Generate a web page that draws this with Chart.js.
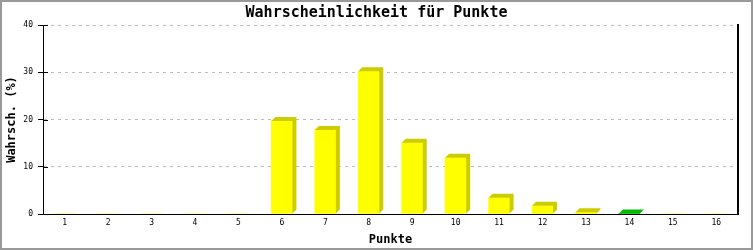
<!DOCTYPE html>
<html>
<head>
<meta charset="utf-8">
<script src="https://cdn.jsdelivr.net/npm/chart.js@4.4.1/dist/chart.umd.min.js"></script>
<style>
  html, body { margin: 0; padding: 0; background: #fff; }
  #wrap { width: 753px; height: 250px; }
</style>
</head>
<body>
<div id="wrap"><canvas id="grafico" width="753" height="250"></canvas></div>
<script>
// --- datos ---
const punkte = ['1', '2', '3', '4', '5', '6', '7', '8', '9', '10', '11', '12', '13', '14', '15', '16'];
const wahrscheinlichkeit = [0, 0, 0, 0, 0, 19.7, 17.8, 30.2, 15.1, 11.9, 3.45, 1.75, 0.35, 0.08, 0, 0];
const yTicks = [0, 10, 20, 30, 40];
const hervorgehoben = '14';

const GELB = '#ffff00', GELB_DUNKEL = '#cccc00';
const GRUEN = '#00cc00', GRUEN_DUNKEL = '#00bb00';

const fuellung = punkte.map(p => p === hervorgehoben ? GRUEN : GELB);
const seiten = punkte.map(p => p === hervorgehoben ? GRUEN_DUNKEL : GELB_DUNKEL);

const MONO = '"DejaVu Sans Mono", "Liberation Mono", monospace';

// fondo blanco + marco gris
const rahmen = {
  id: 'rahmen',
  beforeDraw(chart) {
    const ctx = chart.ctx;
    ctx.save();
    ctx.fillStyle = '#fff';
    ctx.fillRect(0, 0, chart.width, chart.height);
    ctx.restore();
  },
  afterDraw(chart) {
    const ctx = chart.ctx;
    const y = chart.scales.y;
    const a = chart.chartArea;
    ctx.save();
    // kleine Striche innerhalb der y-Achse
    ctx.strokeStyle = '#000';
    ctx.lineWidth = 1;
    yTicks.forEach(v => {
      const py = Math.round(y.getPixelForValue(v)) + 0.5;
      ctx.beginPath();
      ctx.moveTo(a.left, py);
      ctx.lineTo(a.left + 5, py);
      ctx.stroke();
    });
    ctx.strokeStyle = '#999';
    ctx.lineWidth = 2;
    ctx.strokeRect(1, 1, chart.width - 2, chart.height - 2);
    ctx.restore();
  }
};

// efecto 3D: lado y tapa de cada barra
const tiefe3d = {
  id: 'tiefe3d',
  afterDatasetsDraw(chart) {
    const ctx = chart.ctx;
    const meta = chart.getDatasetMeta(0);
    const d = 4;
    ctx.save();
    meta.data.forEach((bar, i) => {
      if (!wahrscheinlichkeit[i]) return;
      const l = bar.x - bar.width / 2;
      const r = bar.x + bar.width / 2;
      const t = bar.y;
      const b = bar.base;
      ctx.fillStyle = seiten[i];
      ctx.beginPath();
      ctx.moveTo(l, t);
      ctx.lineTo(l + d, t - d);
      ctx.lineTo(r + d, t - d);
      ctx.lineTo(r + d, b - d);
      ctx.lineTo(r, b);
      ctx.lineTo(r, t);
      ctx.closePath();
      ctx.fill();
    });
    ctx.restore();
  }
};

new Chart(document.getElementById('grafico'), {
  type: 'bar',
  data: {
    labels: punkte,
    datasets: [{
      data: wahrscheinlichkeit,
      backgroundColor: fuellung,
      borderWidth: 0,
      barThickness: 21,
      yAxisID: 'y'
    }]
  },
  options: {
    responsive: false,
    animation: false,
    devicePixelRatio: 1,
    layout: { padding: 0 },
    plugins: {
      legend: { display: false },
      tooltip: { enabled: false },
      title: {
        display: true,
        text: 'Wahrscheinlichkeit für Punkte',
        color: '#000',
        font: { family: MONO, size: 15, weight: 'bold' },
        padding: { top: 4, bottom: 3 }
      }
    },
    scales: {
      x: {
        offset: true,
        grid: { display: false, drawTicks: false, tickLength: 0 },
        border: { display: true, color: '#000', width: 1 },
        ticks: {
          color: '#000',
          font: { family: MONO, size: 8 },
          padding: 4,
          maxRotation: 0,
          autoSkip: false
        },
        title: {
          display: true,
          text: 'Punkte',
          color: '#000',
          font: { family: MONO, size: 12, weight: 'bold' },
          padding: { top: 0, bottom: 3 }
        },
        afterFit(scale) { scale.height = 36; }
      },
      y: {
        position: 'left',
        min: 0,
        max: 40,
        afterBuildTicks(scale) { scale.ticks = yTicks.map(v => ({ value: v })); },
        grid: {
          color: '#bbbbbb',
          tickColor: '#000',
          tickBorderDash: [],
          tickLength: 5
        },
        border: { display: true, color: '#000', width: 1, dash: [3, 4] },
        ticks: {
          color: '#000',
          font: { family: MONO, size: 8 },
          padding: 5
        },
        title: {
          display: true,
          text: 'Wahrsch. (%)',
          color: '#000',
          font: { family: MONO, size: 12, weight: 'bold' },
          padding: { top: 5, bottom: 0 }
        },
        afterFit(scale) { scale.width = 43; }
      },
      y2: {
        position: 'right',
        min: 0,
        max: 40,
        grid: { display: false },
        ticks: { display: false },
        border: { display: true, color: '#000', width: 2 },
        afterFit(scale) { scale.width = 15; }
      }
    }
  },
  plugins: [rahmen, tiefe3d]
});
</script>
</body>
</html>
